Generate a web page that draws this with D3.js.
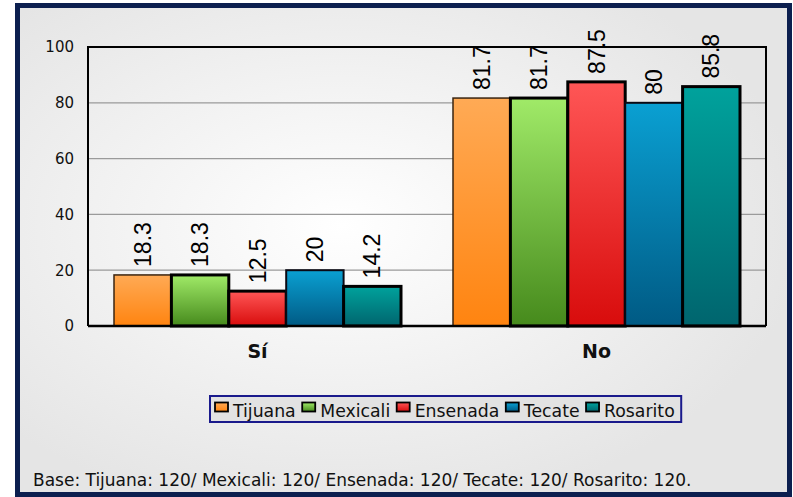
<!DOCTYPE html>
<html><head><meta charset="utf-8">
<script src="https://cdn.jsdelivr.net/npm/d3@7"></script>
<style>html,body{margin:0;padding:0;background:#fff;}svg{display:block;}</style>
</head><body>
<script>
const categories = ["Sí", "No"];
const series = ["Tijuana", "Mexicali", "Ensenada", "Tecate", "Rosarito"];
const values = {
  "Tijuana":  [18.3, 81.7],
  "Mexicali": [18.3, 81.7],
  "Ensenada": [12.5, 87.5],
  "Tecate":   [20, 80],
  "Rosarito": [14.2, 85.8]
};
const yTicks = [0, 20, 40, 60, 80, 100];
const footnote = "Base: Tijuana: 120/ Mexicali: 120/ Ensenada: 120/ Tecate: 120/ Rosarito: 120.";

const colorTop = {Tijuana:"#ffaa55", Mexicali:"#a0ea68", Ensenada:"#ff5656", Tecate:"#0aa0d2", Rosarito:"#00a29c"};
const colorBot = {Tijuana:"#ff8410", Mexicali:"#468a1c", Ensenada:"#d80c0c", Tecate:"#005a84", Rosarito:"#00656e"};
const strokeCol = {Tijuana:"#3a2410", Mexicali:"#000", Ensenada:"#000", Tecate:"#0a0a14", Rosarito:"#000"};
const strokeW = {Tijuana:1.5, Mexicali:3, Ensenada:3, Tecate:2, Rosarito:3};

const W = 793, H = 497;
const svg = d3.select("body").append("svg").attr("width", W).attr("height", H);
const defs = svg.append("defs");
const rg = defs.append("radialGradient").attr("id","bg").attr("cx","0.42").attr("cy","0.45").attr("r","0.6");
rg.append("stop").attr("offset","0").attr("stop-color","#ffffff");
rg.append("stop").attr("offset","1").attr("stop-color","#e5e5e5");
series.forEach((s,i)=>{
  const g = defs.append("linearGradient").attr("id","g"+i).attr("x1",0).attr("y1",0).attr("x2",0).attr("y2",1);
  g.append("stop").attr("offset","0").attr("stop-color",colorTop[s]);
  g.append("stop").attr("offset","1").attr("stop-color",colorBot[s]);
});

// frame
svg.append("rect").attr("x",17.5).attr("y",5.5).attr("width",772).attr("height",489)
  .attr("fill","url(#bg)").attr("stroke","#0c1f4f").attr("stroke-width",5);

const pLeft = 88, pRight = 766, pTop = 47, pBottom = 326;
const x0 = d3.scaleBand().domain(categories).range([pLeft, pRight]).padding(0);
const x1 = d3.scaleBand().domain(series).range([26, x0.bandwidth()-26]).padding(0);
const y = d3.scaleLinear().domain([0,100]).range([pBottom, pTop]);

// gridlines
svg.append("g").selectAll("line").data(yTicks.filter(t=>t>0 && t<100)).join("line")
  .attr("x1",pLeft).attr("x2",pRight).attr("y1",d=>y(d)).attr("y2",d=>y(d))
  .attr("stroke","#9a9a9a").attr("stroke-width",1.2);

// y tick labels
svg.append("g").selectAll("text").data(yTicks).join("text")
  .attr("x",74).attr("y",d=>y(d)).attr("dy","0.36em").attr("text-anchor","end")
  .attr("font-family","DejaVu Sans, sans-serif").attr("font-size",15).attr("fill","#111")
  .text(d=>d);

// plot frame (left, top, right)
svg.append("path").attr("d",`M${pLeft},${pBottom}V${pTop}H${pRight}V${pBottom}`)
  .attr("fill","none").attr("stroke","#000").attr("stroke-width",2);

// bars
const groups = svg.append("g").selectAll("g").data(categories).join("g")
  .attr("transform",d=>`translate(${x0(d)},0)`);
groups.each(function(cat, ci){
  const g = d3.select(this);
  series.forEach((s,si)=>{
    const v = values[s][ci];
    g.append("rect").attr("x",x1(s)).attr("y",y(v)).attr("width",x1.bandwidth()).attr("height",y(0)-y(v))
      .attr("fill",`url(#g${si})`).attr("stroke",strokeCol[s]).attr("stroke-width",strokeW[s]);
    const cx = x1(s)+x1.bandwidth()/2, ty = y(v)-8;
    g.append("text").attr("transform",`translate(${cx},${ty}) rotate(-90)`)
      .attr("dy","0.35em").attr("text-anchor","start")
      .attr("font-family","Liberation Sans, Arial, sans-serif").attr("font-size",23).attr("fill","#000")
      .text(v);
  });
});

// x axis baseline
svg.append("line").attr("x1",pLeft).attr("x2",pRight).attr("y1",pBottom).attr("y2",pBottom)
  .attr("stroke","#000").attr("stroke-width",2.5);

// category labels
svg.append("g").selectAll("text").data(categories).join("text")
  .attr("x",d=>x0(d)+x0.bandwidth()/2).attr("y",358).attr("text-anchor","middle")
  .attr("font-family","DejaVu Sans, sans-serif").attr("font-weight","bold").attr("font-size",19).attr("fill","#111")
  .text(d=>d);

// legend
const lg = svg.append("g");
const lbox = lg.append("rect").attr("y",396).attr("height",26).attr("fill","#e2e2e2")
  .attr("stroke","#1a1a8c").attr("stroke-width",2);
let lx = 215;
series.forEach((s,si)=>{
  lg.append("rect").attr("x",lx).attr("y",402.5).attr("width",13).attr("height",9)
    .attr("fill",`url(#g${si})`).attr("stroke","#000").attr("stroke-width",1.8);
  const t = lg.append("text").attr("x",lx+18).attr("y",416.5)
    .attr("font-family","DejaVu Sans, sans-serif").attr("font-size",17.3).attr("fill","#111").text(s);
  lx += 18 + t.node().getComputedTextLength() + 6.5;
});
lbox.attr("x",210).attr("width",lx - 210);

// footnote
svg.append("text").attr("x",33).attr("y",485.5)
  .attr("font-family","DejaVu Sans, sans-serif").attr("font-size",17).attr("fill","#111")
  .text(footnote);
</script>
</body></html>
